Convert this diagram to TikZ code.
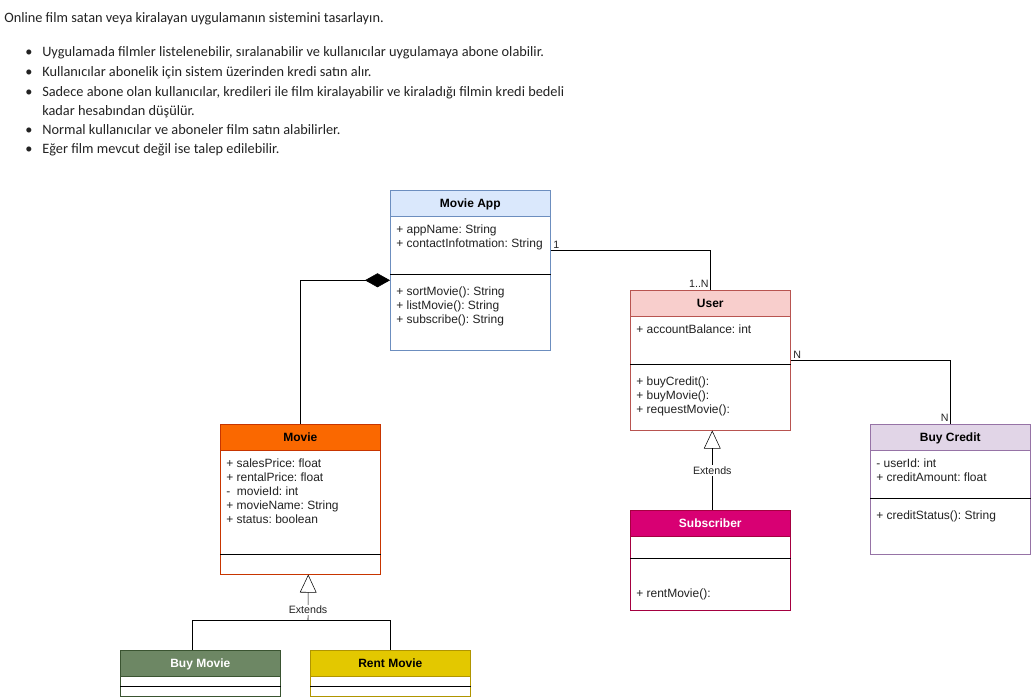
\documentclass[tikz,border=0pt]{standalone}
\usepackage{fontspec}
\setmainfont{Liberation Sans}
\newfontfamily\notefont{Carlito}
\frenchspacing
\usepackage{tikz}
\usetikzlibrary{positioning}
\usetikzlibrary{arrows.meta}
\definecolor{appFill}{HTML}{DAE8FC}
\definecolor{appLine}{HTML}{6C8EBF}
\definecolor{userFill}{HTML}{F8CECC}
\definecolor{userLine}{HTML}{B85450}
\definecolor{movieFill}{HTML}{FA6800}
\definecolor{movieLine}{HTML}{C73500}
\definecolor{buyFill}{HTML}{6D8764}
\definecolor{buyLine}{HTML}{3A5431}
\definecolor{rentFill}{HTML}{E3C800}
\definecolor{rentLine}{HTML}{B09500}
\definecolor{subFill}{HTML}{D80073}
\definecolor{subLine}{HTML}{A50040}
\definecolor{creditFill}{HTML}{E1D5E7}
\definecolor{creditLine}{HTML}{9673A6}
\definecolor{noteText}{HTML}{222222}
\tikzstyle{cls_box}=[draw, rectangle, anchor=north west, minimum width=120pt, inner sep=0pt, fill=white]
\tikzstyle{cls_head}=[cls_box, minimum height=19.5pt, text height=7pt, text depth=0pt, font=\bfseries\fontsize{9}{10}\selectfont]
\tikzstyle{cls_text}=[anchor=base west, align=left, inner sep=0pt, text=noteText, font=\fontsize{9}{10.5}\selectfont]
\tikzstyle{mult}=[inner sep=0pt, text=noteText, font=\fontsize{8}{9}\selectfont]
\tikzstyle{note_line}=[anchor=base west, inner sep=0pt, text=noteText, font=\notefont\fontsize{10.75}{12}\selectfont]
\tikzstyle{gen_arrow}=[-{Triangle[open, length=13.5pt, width=12.5pt]}]

\begin{document}
\begin{tikzpicture}[x=0.75pt, y=-0.75pt]
  \useasboundingbox (0,0) rectangle (1031,697);
  % task text
  \node[note_line] (intro) at (4,22){Online film satan veya kiralayan uygulamanın sistemini tasarlayın.};
  \foreach \y in {56,76,96,134,153}
    \node[note_line] (dot\y) at (25,\y){\textbullet};
  \node[note_line] (req1) at (42,56){Uygulamada filmler listelenebilir, sıralanabilir ve kullanıcılar uygulamaya abone olabilir.};
  \node[note_line] (req2) at (42,76){Kullanıcılar abonelik için sistem üzerinden kredi satın alır.};
  \node[note_line] (req3) at (42,96){Sadece abone olan kullanıcılar, kredileri ile film kiralayabilir ve kiraladığı filmin kredi bedeli};
  \node[note_line] (req3b) at (42,115){kadar hesabından düşülür.};
  \node[note_line] (req4) at (42,134){Normal kullanıcılar ve aboneler film satın alabilirler.};
  \node[note_line] (req5) at (42,153){Eğer film mevcut değil ise talep edilebilir.};
  % Movie App
  \node[cls_box, draw=appLine, minimum height=120pt] (app) at (390,190){};
  \node[cls_head, draw=appLine, fill=appFill] (appHead) at (390,190){Movie App};
  \node[cls_text] (appAttr) at (396,247){+ appName: String\\+ contactInfotmation: String};
  \draw ([yshift=-63pt]app.north west) -- ([yshift=-63pt]app.north east);
  \node[cls_text] (appOps) at (396,323){+ sortMovie(): String\\+ listMovie(): String\\+ subscribe(): String};
  % User
  \node[cls_box, draw=userLine, minimum height=105pt] (user) at (630,290){};
  \node[cls_head, draw=userLine, fill=userFill] (userHead) at (630,290){User};
  \node[cls_text] (userAttr) at (636,333){+ accountBalance: int};
  \draw ([yshift=-55.5pt]user.north west) -- ([yshift=-55.5pt]user.north east);
  \node[cls_text] (userOps) at (636,413){+ buyCredit():\\+ buyMovie():\\+ requestMovie():};
  % Movie
  \node[cls_box, draw=movieLine, minimum height=112.5pt] (movie) at (220,424){};
  \node[cls_head, draw=movieLine, fill=movieFill] (movieHead) at (220,424){Movie};
  \node[cls_text] (movieAttr) at (226,523){+ salesPrice: float\\+ rentalPrice: float\\-\ \ movieId: int\\+ movieName: String\\+ status: boolean};
  \draw ([yshift=-97.5pt]movie.north west) -- ([yshift=-97.5pt]movie.north east);
  % Buy Movie / Rent Movie
  \node[cls_box, draw=buyLine, minimum height=34.5pt] (buy) at (120,650){};
  \node[cls_head, draw=buyLine, fill=buyFill, text=white] (buyHead) at (120,650){Buy Movie};
  \draw ([yshift=-27pt]buy.north west) -- ([yshift=-27pt]buy.north east);
  \node[cls_box, draw=rentLine, minimum height=34.5pt] (rent) at (310,650){};
  \node[cls_head, draw=rentLine, fill=rentFill] (rentHead) at (310,650){Rent Movie};
  \draw ([yshift=-27pt]rent.north west) -- ([yshift=-27pt]rent.north east);
  % Subscriber
  \node[cls_box, draw=subLine, minimum height=75pt] (sub) at (630,510){};
  \node[cls_head, draw=subLine, fill=subFill, text=white] (subHead) at (630,510){Subscriber};
  \draw ([yshift=-36pt]sub.north west) -- ([yshift=-36pt]sub.north east);
  \node[cls_text] (subOps) at (636,597){+ rentMovie():};
  % Buy Credit
  \node[cls_box, draw=creditLine, minimum height=97.5pt] (credit) at (870,424){};
  \node[cls_head, draw=creditLine, fill=creditFill] (creditHead) at (870,424){Buy Credit};
  \node[cls_text] (creditAttr) at (876,481){- userId: int\\+ creditAmount: float};
  \draw ([yshift=-55.5pt]credit.north west) -- ([yshift=-55.5pt]credit.north east);
  \node[cls_text] (creditOps) at (876,519){+ creditStatus(): String};
  % associations
  \draw ([yshift=15pt]app.east) -| (user.north)
    node[mult, pos=0, anchor=south west, xshift=2pt, yshift=1.5pt]{1}
    node[mult, pos=1, anchor=south east, xshift=-1pt, yshift=2pt]{1..N};
  \draw (user.east) -| (credit.north)
    node[mult, pos=0, anchor=south west, xshift=2pt, yshift=1.5pt]{N}
    node[mult, pos=1, anchor=south east, xshift=-1pt, yshift=2pt]{N};
  \draw[{Diamond[length=18.75pt, width=10.5pt]}-] ([yshift=-7.5pt]app.west) -| (movie.north);
  % generalisations
  \coordinate (mvJoin) at (308,620);
  \draw ([xshift=-6pt]buy.north) |- (mvJoin) -| (rent.north);
  \draw[gen_arrow] (mvJoin) -- ([xshift=6pt]movie.south)
    node[mult, pos=0.22, fill=white, inner sep=1pt]{Extends};
  \draw[gen_arrow] ([xshift=1.5pt]sub.north) -- ([xshift=1.5pt]user.south)
    node[mult, pos=0.5, fill=white, inner sep=1pt]{Extends};
\end{tikzpicture}
\end{document}
